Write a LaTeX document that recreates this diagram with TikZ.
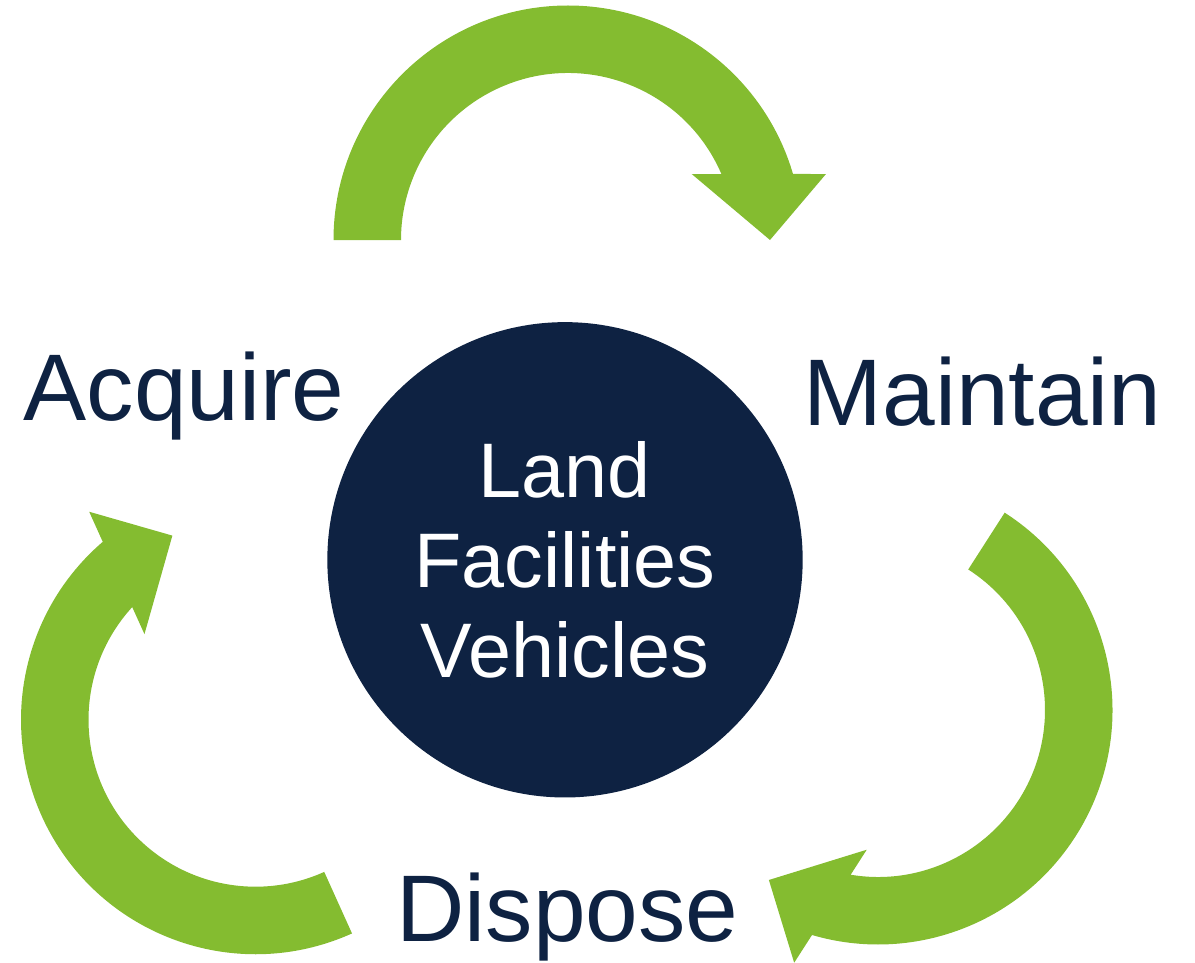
\documentclass[tikz,border=0pt]{standalone}
\usepackage{fontspec}
\setmainfont{Liberation Sans}
\usepackage{tikz}
\tikzset{every picture/.style={line width=0.75pt}}

\begin{document}
\begin{tikzpicture}[x=0.75pt,y=0.75pt,yscale=-1,xscale=1,
	cyclearrow/.style={draw=none, fill={rgb, 255:red, 132; green, 188; blue, 48 }, fill opacity=1},
	stagetext/.style={text={rgb, 255:red, 14; green, 34; blue, 66 }, inner sep=0, anchor=base, font=\fontsize{71}{80}\selectfont}]
		%set diagram size to the reference
		\useasboundingbox (0,0) rectangle (1195,963);
		
		%Curved Arrow [top, acquire to maintain] 
		\draw [cyclearrow, shift={(568,240)}] (180:234.5) arc[start angle=180, end angle=343.65, radius=234.5] -- (345.65:266.3) -- (0:202) -- (331.92:140.2) -- (336.72:167) arc[start angle=336.72, end angle=180, radius=167] -- cycle ;
		%Curved Arrow [right, maintain to dispose] 
		\draw [cyclearrow, shift={(878,710)}, rotate=122.7] (180:234.5) arc[start angle=180, end angle=343.65, radius=234.5] -- (345.65:266.3) -- (0:202) -- (331.92:140.2) -- (336.72:167) arc[start angle=336.72, end angle=180, radius=167] -- cycle ;
		%Curved Arrow [left, dispose to acquire] 
		\draw [cyclearrow, shift={(255.5,719.7)}, rotate=245.7] (180:234.5) arc[start angle=180, end angle=343.65, radius=234.5] -- (345.65:266.3) -- (0:202) -- (331.92:140.2) -- (336.72:167) arc[start angle=336.72, end angle=180, radius=167] -- cycle ;
		
		%Shape: Circle 
		\node [circle, fill={rgb, 255:red, 14; green, 34; blue, 66 }, minimum size=356.5pt, inner sep=0, text=white, align=center, font=\fontsize{58}{67.3}\selectfont] (hub) at (565,559.8) {Land\\Facilities\\Vehicles};
		
		% Text Node
		\node [stagetext] (acquire) at (184.2,420.7) {Acquire};
		% Text Node
		\node [stagetext] (maintain) at (982.5,425) {Maintain};
		% Text Node
		\node [stagetext] (dispose) at (567.5,941.7) {Dispose};
		
\end{tikzpicture}
\end{document}
